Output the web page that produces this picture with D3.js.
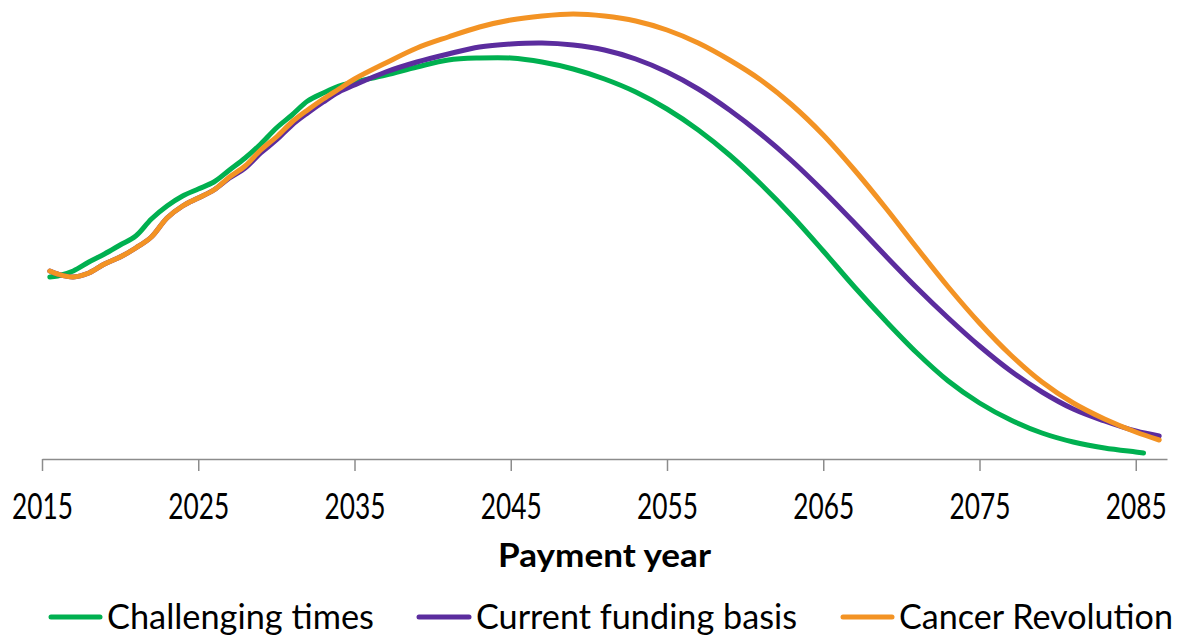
<!DOCTYPE html>
<html>
<head>
<meta charset="utf-8">
<script src="https://cdn.jsdelivr.net/npm/d3@7"></script>
<style>
  html, body { margin: 0; padding: 0; background: #ffffff; }
  svg { display: block; font-family: Lato, "Open Sans", sans-serif; }
</style>
</head>
<body>
<svg id="chart" width="1184" height="638"></svg>
<script>
// Payment years sampled along each projection (mid-year points early on)
const years = [2015.5, 2016, 2017, 2018, 2019, 2020, 2021, 2022, 2023, 2024,
  2025, 2026, 2027, 2028, 2029, 2030, 2031, 2032, 2033, 2034,
  2035, 2037, 2039, 2041, 2043, 2045, 2047, 2049, 2051, 2053,
  2055, 2057, 2059, 2061, 2063, 2065, 2067, 2069, 2071, 2073,
  2075, 2077, 2079, 2081, 2083, 2085];

// Final payment year of each projection
const lastYears = [2085.5, 2086.5, 2086.5];

// Projected payments (index units), one value per year above plus the final year
const challengingTimes = [182, 183, 188, 197, 205, 214, 223, 240, 253, 263,
  270, 277, 289, 301, 315, 331, 344, 358, 366, 373,
  377, 384, 392, 399, 401, 401, 397, 390, 380, 367,
  350, 329, 304, 275, 243, 208, 172, 138, 106, 78,
  56, 39, 26, 17, 11, 7, 6];

const currentFundingBasis = [188, 185, 182, 186, 195, 202, 211, 222, 241, 253,
  261, 269, 281, 291, 306, 319, 334, 346, 357, 367,
  374, 387, 397, 405, 412, 415, 416, 414, 409, 400,
  387, 370, 349, 325, 298, 268, 236, 203, 171, 141,
  113, 88, 67, 50, 38, 28, 23];

const cancerRevolution = [188, 185, 182, 186, 195, 202, 211, 222, 241, 253,
  261, 269, 282, 293, 309, 322, 337, 349, 360, 370,
  380, 396, 411, 422, 432, 439, 443, 445, 443, 438,
  429, 416, 399, 379, 354, 324, 289, 251, 211, 172,
  136, 104, 77, 56, 40, 27, 19];

const seriesNames = ["Challenging times", "Current funding basis", "Cancer Revolution"];
const seriesValues = [challengingTimes, currentFundingBasis, cancerRevolution];
const seriesColors = ["#00b050", "#5b2c9e", "#f39324"];

const tickYears = [2015, 2025, 2035, 2045, 2055, 2065, 2075, 2085];

const svg = d3.select("#chart");

const x = d3.scaleLinear().domain([2015, 2087]).range([42, 1167]);
const y = d3.scaleLinear().domain([0, 459]).range([459, 0]);

const series = seriesNames.map((name, i) => {
  const vals = seriesValues[i];
  const pts = years.map((yr, j) => ({ year: yr, value: vals[j] }));
  pts.push({ year: lastYears[i], value: vals[vals.length - 1] });
  return { name, color: seriesColors[i], points: pts };
});

// Squeeze a text horizontally so it spans the given width, keeping its height
function fitText(sel, px, py, width, anchor) {
  sel.each(function () {
    const t = d3.select(this);
    t.attr("x", 0).attr("y", 0).attr("text-anchor", anchor);
    const natural = this.getComputedTextLength();
    const sx = width / natural;
    t.attr("transform", `translate(${px},${py}) scale(${sx},1)`);
  });
}

// x axis
const axis = d3.axisBottom(x)
  .tickValues(tickYears)
  .tickFormat(d3.format("d"))
  .tickSize(12)
  .tickSizeOuter(0);

const gAxis = svg.append("g")
  .attr("transform", `translate(0,${y(0)})`)
  .call(axis);

gAxis.select(".domain").attr("stroke", "#8c8c8c").attr("stroke-width", 1.5);
gAxis.selectAll(".tick line").attr("stroke", "#8c8c8c").attr("stroke-width", 1.5);
gAxis.selectAll(".tick text")
  .attr("dy", 0)
  .attr("fill", "#000")
  .style("font-family", "Lato, 'Open Sans', sans-serif")
  .style("font-size", "36px")
  .each(function () { fitText(d3.select(this), 0, 60, 61, "middle"); });

// axis title
svg.append("text")
  .style("font-size", "32px")
  .style("font-weight", "bold")
  .attr("fill", "#000")
  .text("Payment year")
  .call(fitText, 604.5, 567, 213, "middle");

// lines
const line = d3.line()
  .x(d => x(d.year))
  .y(d => y(d.value))
  .curve(d3.curveCatmullRom.alpha(0.5));

svg.append("g")
  .selectAll("path")
  .data(series)
  .join("path")
  .attr("d", d => line(d.points))
  .attr("fill", "none")
  .attr("stroke", d => d.color)
  .attr("stroke-width", 5)
  .attr("stroke-linecap", "round")
  .attr("stroke-linejoin", "round");

// legend
const legendItems = [
  { x0: 51, x1: 100, tx: 107, w: 267 },
  { x0: 419, x1: 469, tx: 476, w: 321 },
  { x0: 843, x1: 892, tx: 899, w: 274 }
];

const legend = svg.append("g");
series.forEach((s, i) => {
  const it = legendItems[i];
  legend.append("line")
    .attr("x1", it.x0).attr("x2", it.x1)
    .attr("y1", 617).attr("y2", 617)
    .attr("stroke", s.color)
    .attr("stroke-width", 5)
    .attr("stroke-linecap", "round");
  legend.append("text")
    .style("font-size", "35px")
    .attr("fill", "#000")
    .text(s.name)
    .call(fitText, it.tx, 629, it.w, "start");
});
</script>
</body>
</html>
